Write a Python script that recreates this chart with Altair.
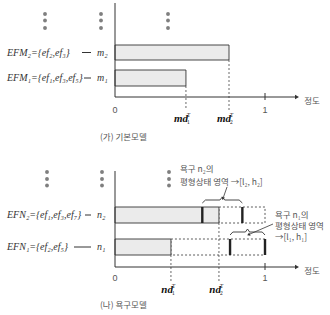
import altair as alt
import pandas as pd

# ---------------- data ----------------
basic_names = ["EFM₂={ef₂,ef₃}", "EFM₁={ef₁,ef₃,ef₅}"]
basic_models = ["m₂", "m₁"]
basic_degree = [0.76, 0.473]
basic_sub = ["2", "1"]

need_names = ["EFN₂={ef₁,ef₃,ef₇}", "EFN₁={ef₂,ef₅}"]
need_models = ["n₂", "n₁"]
need_degree = [0.693, 0.373]
need_low = [0.582, 0.767]
need_high = [0.849, 1.0]
need_sub = ["2", "1"]

# ---------------- layout helpers ----------------
X0, UNIT = 115, 150
def dx(px):
    return (px - X0) / UNIT

XS = alt.Scale(domain=[dx(0), dx(330)], nice=False, zero=False)
YS = alt.Scale(domain=[0, 315], nice=False, zero=False, reverse=True)

def enc(**kw):
    out = {}
    for k, v in kw.items():
        if k == "x":
            out["x"] = alt.X(v, type="quantitative", scale=XS, axis=None)
        elif k == "y":
            out["y"] = alt.Y(v, type="quantitative", scale=YS, axis=None)
        elif k == "x2":
            out["x2"] = alt.X2(v)
        elif k == "y2":
            out["y2"] = alt.Y2(v)
        else:
            out[k] = v
    return out

AX = "#333333"
GRAY_TXT = "#555555"
KFONT = "Noto Sans CJK KR"
MFONT = "Liberation Serif"

panels = [
    dict(rows=[(45, 60), (70, 86)], axis_top=3, axis_y=97, dots_y=[14, 20.5, 28],
         dots_x=[45, 101, 168], lab_y=110, nd_y=119, cap_y=137, cap="(가) 기본모델",
         names=basic_names, models=basic_models, degree=basic_degree, sub=basic_sub, sym="md",
         dash=[(82, 91), (84, 91)]),
    dict(rows=[(207, 223), (239, 255)], axis_top=171, axis_y=267, dots_y=[172, 179, 185.5],
         dots_x=[47, 102, 169], lab_y=278, nd_y=290, cap_y=305, cap="(나) 욕구모델",
         names=need_names, models=need_models, degree=need_degree, sub=need_sub, sym="nd",
         dash=[(85, 91), (74, 91)]),
]

bars, axes_rules, arrowheads, dotted, dots = [], [], [], [], []
txt_math, txt_num, txt_kor_c, txt_kor_l, sym_main, sym_small = [], [], [], [], [], []

for pi, p in enumerate(panels):
    ay = p["axis_y"]
    axes_rules.append(dict(x=0, x2=0, y=p["axis_top"], y2=ay))
    axes_rules.append(dict(x=0, x2=dx(296), y=ay, y2=ay))
    axes_rules.append(dict(x=1, x2=1, y=ay - 4, y2=ay + 3))
    arrowheads.append(dict(x=dx(297), y=ay))
    txt_num.append(dict(x=0, y=p["lab_y"], t="0"))
    txt_num.append(dict(x=1, y=p["lab_y"], t="1"))
    txt_kor_c.append(dict(x=dx(312), y=ay + 4, t="정도"))
    txt_kor_l.append(dict(x=dx(100), y=p["cap_y"], t=p["cap"]))
    for cx in p["dots_x"]:
        for cy in p["dots_y"]:
            dots.append(dict(x=dx(cx), y=cy))
    for i, (y0, y1) in enumerate(p["rows"]):
        d = p["degree"][i]
        bars.append(dict(x=0, x2=d, y=y0, y2=y1))
        ymid = (y0 + y1) / 2
        txt_math.append(dict(x=dx(7), y=ymid, t=p["names"][i]))
        txt_math.append(dict(x=dx(97), y=ymid, t=p["models"][i]))
        a, b = p["dash"][i]
        axes_rules.append(dict(x=dx(a), x2=dx(b), y=ymid, y2=ymid))
        dotted.append(dict(x=d, y=y1, y2=p["lab_y"] + (0 if pi == 0 else 5)))
        sym_main.append(dict(x=d + 2 / UNIT, y=p["nd_y"], t=p["sym"]))
        sym_small.append(dict(x=d + 1 / UNIT, y=p["nd_y"] - 4, t="T"))
        sym_small.append(dict(x=d + 1 / UNIT, y=p["nd_y"] + 3, t=p["sub"][i]))

bars_df = pd.DataFrame(bars)
rules_df = pd.DataFrame(axes_rules)
arrow_df = pd.DataFrame(arrowheads)
dotted_df = pd.DataFrame(dotted)
dots_df = pd.DataFrame(dots)

# need-model remainder boxes, equilibrium marks, braces
rem, thick, brace = [], [], []
for i, (y0, y1) in enumerate(panels[1]["rows"]):
    rem.append(dict(x=need_degree[i], x2=1.0, y=y0, y2=y1))
    for v in (need_low[i], need_high[i]):
        thick.append(dict(x=v, y=y0, y2=y1))
    l, h = need_low[i], need_high[i]
    w = h - l
    m = (l + h) / 2
    yb = y0 - 4
    yt = y0 - 7
    pts = [(l, yb), (l + 0.08 * w, yt), (m - 0.06 * w, yt), (m, yt - 3),
           (m + 0.06 * w, yt), (h - 0.08 * w, yt), (h, yb)]
    for k, (px, py) in enumerate(pts):
        brace.append(dict(x=px, y=py, o=k, g=i))
rem_df = pd.DataFrame(rem)
thick_df = pd.DataFrame(thick)
brace_df = pd.DataFrame(brace)

annot = pd.DataFrame([
    dict(x=dx(180), y=169, t="욕구 n₂의"),
    dict(x=dx(180), y=182, t="평형상태 영역 →[l₂, h₂]"),
    dict(x=dx(275), y=215, t="욕구 n₁의"),
    dict(x=dx(275), y=226, t="평형상태 영역"),
    dict(x=dx(275), y=237, t="→[l₁, h₁]"),
])
ann_lines = pd.DataFrame([
    dict(x=dx(227), x2=dx(223.5), y=187, y2=197),
    dict(x=dx(273), x2=dx(250), y=224, y2=234),
])
ann_heads = pd.DataFrame([
    dict(x=dx(223), y=198, ang=200),
    dict(x=dx(249), y=234.5, ang=246),
])

layers = []
layers.append(alt.Chart(rem_df).mark_rect(fillOpacity=0, stroke=AX, strokeWidth=0.8, strokeDash=[2, 2])
              .encode(**enc(x="x", x2="x2", y="y", y2="y2")))
layers.append(alt.Chart(bars_df).mark_rect(fill="#ebebeb", stroke=AX, strokeWidth=0.9)
              .encode(**enc(x="x", x2="x2", y="y", y2="y2")))
layers.append(alt.Chart(thick_df).mark_rule(color="#222222", strokeWidth=2.4)
              .encode(**enc(x="x", y="y", y2="y2")))
layers.append(alt.Chart(dotted_df).mark_rule(color="#444444", strokeWidth=0.8, strokeDash=[2, 2])
              .encode(**enc(x="x", y="y", y2="y2")))
layers.append(alt.Chart(rules_df).mark_rule(color=AX, strokeWidth=1)
              .encode(**enc(x="x", x2="x2", y="y", y2="y2")))
layers.append(alt.Chart(arrow_df).mark_point(shape="triangle-right", filled=True, color=AX, size=22, opacity=1)
              .encode(**enc(x="x", y="y")))
layers.append(alt.Chart(dots_df).mark_circle(color="#7f7f7f", size=15, opacity=1)
              .encode(**enc(x="x", y="y")))
layers.append(alt.Chart(brace_df).mark_line(color=AX, strokeWidth=0.9)
              .encode(**enc(x="x", y="y"), order="o:Q", detail="g:N"))
layers.append(alt.Chart(ann_lines).mark_rule(color=AX, strokeWidth=0.8)
              .encode(**enc(x="x", x2="x2", y="y", y2="y2")))
layers.append(alt.Chart(ann_heads).mark_point(shape="triangle", filled=True, color=AX, size=12, opacity=1)
              .encode(**enc(x="x", y="y"), angle=alt.Angle("ang:Q", scale=None)))
layers.append(alt.Chart(pd.DataFrame(txt_math)).mark_text(font=MFONT, fontStyle="italic", fontSize=10,
              align="left", baseline="middle", color="#333333")
              .encode(**enc(x="x", y="y"), text="t:N"))
layers.append(alt.Chart(pd.DataFrame(txt_num)).mark_text(font="Liberation Sans", fontSize=9,
              align="center", baseline="middle", color=GRAY_TXT)
              .encode(**enc(x="x", y="y"), text="t:N"))
layers.append(alt.Chart(pd.DataFrame(txt_kor_c)).mark_text(font=KFONT, fontSize=8.5, align="center",
              baseline="middle", color=GRAY_TXT)
              .encode(**enc(x="x", y="y"), text="t:N"))
layers.append(alt.Chart(pd.DataFrame(txt_kor_l)).mark_text(font=KFONT, fontSize=8.5, align="left",
              baseline="middle", color=GRAY_TXT)
              .encode(**enc(x="x", y="y"), text="t:N"))
layers.append(alt.Chart(annot).mark_text(font=KFONT, fontSize=8.5, align="left",
              baseline="middle", color=GRAY_TXT)
              .encode(**enc(x="x", y="y"), text="t:N"))
layers.append(alt.Chart(pd.DataFrame(sym_main)).mark_text(font=MFONT, fontStyle="italic", fontWeight="bold",
              fontSize=11, align="right", baseline="middle", color="#111111")
              .encode(**enc(x="x", y="y"), text="t:N"))
layers.append(alt.Chart(pd.DataFrame(sym_small)).mark_text(font=MFONT, fontSize=5.5,
              align="left", baseline="middle", color="#111111")
              .encode(**enc(x="x", y="y"), text="t:N"))

chart = alt.layer(*layers).properties(
    width=330, height=315, padding=0, autosize=alt.AutoSizeParams(type="none")
).configure_view(stroke=None)

chart.save("out.html", embed_options={"renderer": "svg", "actions": False})
